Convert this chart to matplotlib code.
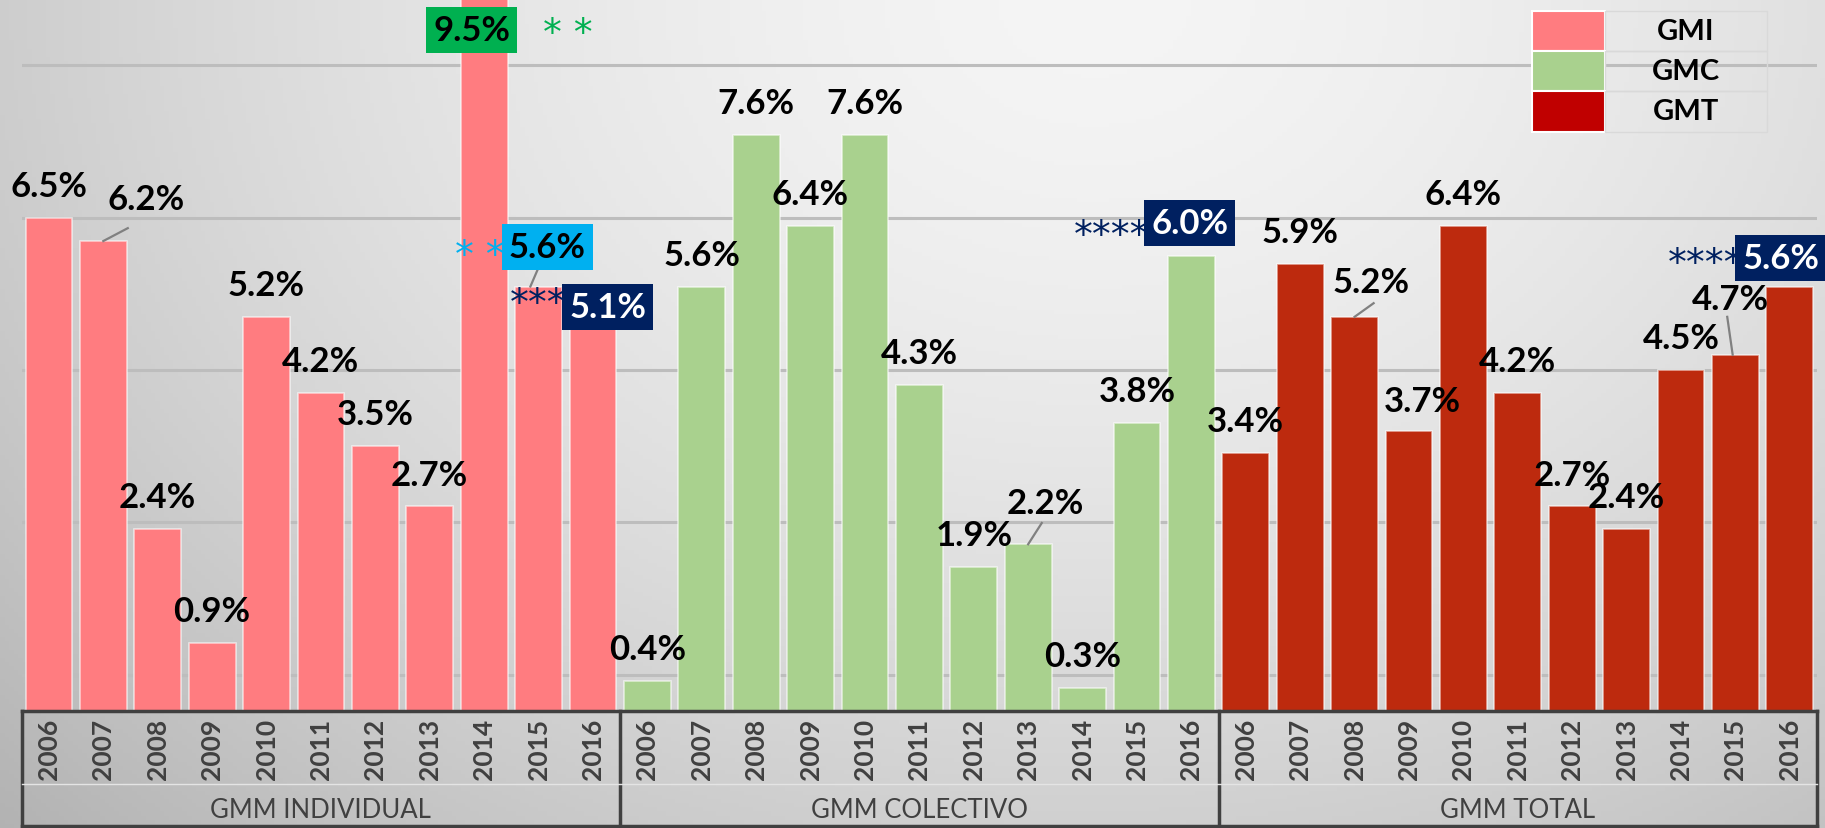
import numpy as np
import matplotlib.pyplot as plt
from matplotlib.patches import Rectangle
from matplotlib.lines import Line2D

plt.rcParams['font.family'] = ['Lato', 'DejaVu Sans']

years = ['2006', '2007', '2008', '2009', '2010', '2011', '2012', '2013', '2014', '2015', '2016']
groups = ['GMM INDIVIDUAL', 'GMM COLECTIVO', 'GMM TOTAL']
gmi = [6.5, 6.2, 2.4, 0.9, 5.2, 4.2, 3.5, 2.7, 9.5, 5.6, 5.1]
gmc = [0.4, 5.6, 7.6, 6.4, 7.6, 4.3, 1.9, 2.2, 0.3, 3.8, 6.0]
gmt = [3.4, 5.9, 5.2, 3.7, 6.4, 4.2, 2.7, 2.4, 4.5, 4.7, 5.6]
legend_names = ['GMI', 'GMC', 'GMT']

c_gmi = '#FF7C80'
c_gmc = '#A9D18E'
c_gmt = '#BD2A0E'
c_leg = ['#FF7C80', '#A9D18E', '#C00000']
navy = '#002060'

W, H = 1825, 829
fig = plt.figure(figsize=(W / 100, H / 100), dpi=100)

# fondo degradado gris
bg = fig.add_axes([0, 0, 1, 1], zorder=-10)
xx, yy = np.meshgrid(np.linspace(0, 1, 400), np.linspace(0, 1, 200))
r = np.sqrt(((xx - 0.6) / 0.75) ** 2 + (yy / 1.3) ** 2)
shade = 0.96 - 0.22 * r ** 1.6
bg.imshow(np.dstack([shade] * 3).clip(0, 1), aspect='auto', extent=[0, 1, 0, 1], origin='upper')
bg.set_axis_off()

base = 712
ppu = 75.8
left = 21.7 / W
right = 1817 / W
ax = fig.add_axes([left, 1 - base / H, right - left, base / H])
ax.set_facecolor('none')
ax.set_xlim(-0.5, 32.5)
ax.set_ylim(0, base / ppu)
ax.set_axis_off()

for g in [0.48, 2.49, 4.5, 6.51, 8.52]:
    ax.axhline(g, color='#BDBDBD', lw=2.2, zorder=0)

values = gmi + gmc + gmt
colors = [c_gmi] * 11 + [c_gmc] * 11 + [c_gmt] * 11
xs = np.arange(len(values))
ax.bar(xs, values, width=0.86, color=colors, edgecolor=(1, 1, 1, 0.6), linewidth=1.2, zorder=2)

# etiquetas: desplazamientos (dx, dy) de cada etiqueta respecto a su barra
offsets = {1: (0.78, 0.55), 18: (0.31, 0.54), 24: (0.3, 0.46), 25: (0.25, 0.39),
           31: (-0.09, 0.74)}
boxed = {8: ('#00B050', 'black', (7.77, 8.99), '* *', (9.54, 9.03)),
         9: ('#00B0F0', 'black', (9.16, 6.12), '* *', (7.92, 6.10)),
         10: (navy, 'white', (10.27, 5.33), '***', (8.99, 5.47)),
         21: (navy, 'white', (20.97, 6.44), '****', (19.53, 6.37)),
         32: (navy, 'white', (31.83, 5.98), '****', (30.46, 6.0))}
star_colors = {8: '#00B050', 9: '#00B0F0', 10: navy, 21: navy, 32: navy}

for i, v in enumerate(values):
    txt = f'{v:.1f}%'
    if i in boxed:
        fc, tc, pos, stars, spos = boxed[i]
        ax.text(spos[0], spos[1] - 0.1, stars, color=star_colors[i], fontsize=27,
                family='DejaVu Sans',
                ha='center', va='center', zorder=4, clip_on=False)
        ax.text(pos[0], pos[1], txt, color=tc, fontsize=25, fontweight='bold', ha='center',
                va='center', zorder=5, clip_on=False,
                bbox=dict(boxstyle='square,pad=0.2', fc=fc, ec='none'))
    else:
        dx, dy = offsets.get(i, (0, 0.42))
        ax.text(i + dx, v + dy, txt, color='black', fontsize=25, fontweight='bold',
                ha='center', va='center', zorder=4)

# lineas guia
leaders = [((1.0, 6.2), (1.45, 6.37)), ((8.85, 5.6), (9.0, 5.85)),
           ((18.0, 2.2), (18.25, 2.48)), ((24.0, 5.2), (24.35, 5.38)),
           ((30.95, 4.7), (30.85, 5.2))]
for (x0, y0), (x1, y1) in leaders:
    ax.plot([x0, x1], [y0, y1], color='#808080', lw=1.6, zorder=3)

# eje de categorias
trans = ax.get_xaxis_transform()
for i in range(len(values)):
    ax.text(i, -37 / base, years[i % 11], transform=trans, rotation=90, ha='center',
            va='center', fontsize=19, fontweight='bold', color='#404040', clip_on=False)
for k, name in enumerate(groups):
    ax.text(11 * k + 5, -99 / base, name, transform=trans, ha='center', va='center',
            fontsize=18.5, color='#404040', clip_on=False)

ybot = 2 / H
ytop = 1 - base / H
x_l = left
x_r = right
fig.add_artist(Line2D([x_l, x_r], [ytop, ytop], color='#404040', lw=2.5))
fig.add_artist(Line2D([x_l, x_r], [ybot, ybot], color='#404040', lw=2.5))
fig.add_artist(Line2D([x_l, x_l], [ybot, ytop], color='#404040', lw=2.5))
fig.add_artist(Line2D([x_r, x_r], [ybot, ytop], color='#404040', lw=2.5))
for b in [10.5, 21.5]:
    xb = left + (b + 0.5) / 33 * (right - left)
    fig.add_artist(Line2D([xb, xb], [ybot, ytop], color='#404040', lw=2.5))
ymid = 1 - 785 / H
fig.add_artist(Line2D([x_l, x_r], [ymid, ymid], color='#E4E4E4', lw=1))

# leyenda tipo tabla
lx0, lx1, lx2 = 1532 / W, 1605 / W, 1767 / W
rows = [11.6, 52, 92, 132.7]
for k, name in enumerate(legend_names):
    y0 = 1 - rows[k + 1] / H
    y1 = 1 - rows[k] / H
    fig.add_artist(Rectangle((lx0, y0), lx1 - lx0, y1 - y0, fc=c_leg[k], ec='white', lw=1.5))
    fig.add_artist(Rectangle((lx1, y0), lx2 - lx1, y1 - y0, fc='none', ec='#D9D9D9', lw=1))
    fig.text((lx1 + lx2) / 2, (y0 + y1) / 2, name, ha='center', va='center',
             fontsize=21, fontweight='bold', color='black')

fig.savefig('out.png', dpi=100)
